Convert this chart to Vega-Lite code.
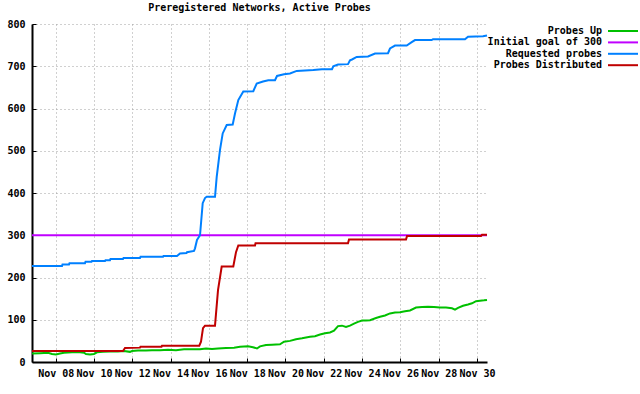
{
"$schema": "https://vega.github.io/schema/vega-lite/v6.json",
"width": 455, "height": 338,
"autosize": "none",
"padding": {"left": 32, "top": 24, "right": 153, "bottom": 32},
"background": "white",
"title": {"text": "Preregistered Networks, Active Probes", "font": "DejaVu Sans Mono", "fontSize": 10, "fontWeight": "bold", "anchor": "middle", "offset": 6, "color": "black"},
"config": {
  "view": {"stroke": null},
  "axis": {"domainColor": "black", "domainWidth": 2, "tickColor": "black", "tickWidth": 1, "gridColor": "#a0a0a0", "gridDash": [1, 3], "gridWidth": 1, "labelFont": "DejaVu Sans Mono", "labelFontSize": 10, "labelFontWeight": "bold", "labelColor": "black", "title": null}
},
"data": {"values": [
{"s":"Probes Up","t":"2010-11-06T18:18","v":20},
{"s":"Probes Up","t":"2010-11-07T04:19","v":21},
{"s":"Probes Up","t":"2010-11-07T14:21","v":22},
{"s":"Probes Up","t":"2010-11-07T19:22","v":19},
{"s":"Probes Up","t":"2010-11-08T00:23","v":18},
{"s":"Probes Up","t":"2010-11-08T05:23","v":20},
{"s":"Probes Up","t":"2010-11-08T10:24","v":22},
{"s":"Probes Up","t":"2010-11-08T20:26","v":23},
{"s":"Probes Up","t":"2010-11-09T06:27","v":23},
{"s":"Probes Up","t":"2010-11-09T11:28","v":22},
{"s":"Probes Up","t":"2010-11-09T13:58","v":19},
{"s":"Probes Up","t":"2010-11-09T18:59","v":18},
{"s":"Probes Up","t":"2010-11-10T00:00","v":19},
{"s":"Probes Up","t":"2010-11-10T03:46","v":23},
{"s":"Probes Up","t":"2010-11-10T11:17","v":24},
{"s":"Probes Up","t":"2010-11-10T20:03","v":25},
{"s":"Probes Up","t":"2010-11-11T06:05","v":25},
{"s":"Probes Up","t":"2010-11-11T13:36","v":26},
{"s":"Probes Up","t":"2010-11-11T21:07","v":24},
{"s":"Probes Up","t":"2010-11-11T23:38","v":26},
{"s":"Probes Up","t":"2010-11-12T07:09","v":27},
{"s":"Probes Up","t":"2010-11-12T17:10","v":27},
{"s":"Probes Up","t":"2010-11-13T00:41","v":28},
{"s":"Probes Up","t":"2010-11-13T10:43","v":28},
{"s":"Probes Up","t":"2010-11-13T20:45","v":29},
{"s":"Probes Up","t":"2010-11-14T06:46","v":28},
{"s":"Probes Up","t":"2010-11-14T16:48","v":30},
{"s":"Probes Up","t":"2010-11-15T02:49","v":30},
{"s":"Probes Up","t":"2010-11-15T12:51","v":30},
{"s":"Probes Up","t":"2010-11-15T20:22","v":32},
{"s":"Probes Up","t":"2010-11-16T03:53","v":31},
{"s":"Probes Up","t":"2010-11-16T11:25","v":32},
{"s":"Probes Up","t":"2010-11-16T21:26","v":33},
{"s":"Probes Up","t":"2010-11-17T07:28","v":34},
{"s":"Probes Up","t":"2010-11-17T14:59","v":36},
{"s":"Probes Up","t":"2010-11-18T01:01","v":37},
{"s":"Probes Up","t":"2010-11-18T07:17","v":35},
{"s":"Probes Up","t":"2010-11-18T12:17","v":32},
{"s":"Probes Up","t":"2010-11-18T16:03","v":37},
{"s":"Probes Up","t":"2010-11-18T23:34","v":40},
{"s":"Probes Up","t":"2010-11-19T07:05","v":41},
{"s":"Probes Up","t":"2010-11-19T17:07","v":42},
{"s":"Probes Up","t":"2010-11-19T22:08","v":48},
{"s":"Probes Up","t":"2010-11-20T05:39","v":50},
{"s":"Probes Up","t":"2010-11-20T13:10","v":54},
{"s":"Probes Up","t":"2010-11-20T20:41","v":56},
{"s":"Probes Up","t":"2010-11-21T06:43","v":60},
{"s":"Probes Up","t":"2010-11-21T12:59","v":61},
{"s":"Probes Up","t":"2010-11-21T19:15","v":65},
{"s":"Probes Up","t":"2010-11-22T01:31","v":68},
{"s":"Probes Up","t":"2010-11-22T07:47","v":70},
{"s":"Probes Up","t":"2010-11-22T12:47","v":74},
{"s":"Probes Up","t":"2010-11-22T17:49","v":85},
{"s":"Probes Up","t":"2010-11-22T22:49","v":86},
{"s":"Probes Up","t":"2010-11-23T03:50","v":83},
{"s":"Probes Up","t":"2010-11-23T08:51","v":86},
{"s":"Probes Up","t":"2010-11-23T13:52","v":91},
{"s":"Probes Up","t":"2010-11-23T18:52","v":95},
{"s":"Probes Up","t":"2010-11-23T23:53","v":98},
{"s":"Probes Up","t":"2010-11-24T04:54","v":98},
{"s":"Probes Up","t":"2010-11-24T09:55","v":99},
{"s":"Probes Up","t":"2010-11-24T17:26","v":104},
{"s":"Probes Up","t":"2010-11-24T22:27","v":107},
{"s":"Probes Up","t":"2010-11-25T04:43","v":110},
{"s":"Probes Up","t":"2010-11-25T10:59","v":115},
{"s":"Probes Up","t":"2010-11-25T17:14","v":117},
{"s":"Probes Up","t":"2010-11-25T23:31","v":118},
{"s":"Probes Up","t":"2010-11-26T05:47","v":120},
{"s":"Probes Up","t":"2010-11-26T12:02","v":122},
{"s":"Probes Up","t":"2010-11-26T19:34","v":129},
{"s":"Probes Up","t":"2010-11-27T03:05","v":130},
{"s":"Probes Up","t":"2010-11-27T10:36","v":131},
{"s":"Probes Up","t":"2010-11-27T18:07","v":130},
{"s":"Probes Up","t":"2010-11-28T01:38","v":129},
{"s":"Probes Up","t":"2010-11-28T09:10","v":129},
{"s":"Probes Up","t":"2010-11-28T16:41","v":127},
{"s":"Probes Up","t":"2010-11-28T20:26","v":124},
{"s":"Probes Up","t":"2010-11-29T00:12","v":128},
{"s":"Probes Up","t":"2010-11-29T06:28","v":133},
{"s":"Probes Up","t":"2010-11-29T12:44","v":136},
{"s":"Probes Up","t":"2010-11-29T17:44","v":139},
{"s":"Probes Up","t":"2010-11-29T22:45","v":144},
{"s":"Probes Up","t":"2010-11-30T03:46","v":145},
{"s":"Probes Up","t":"2010-11-30T08:47","v":146},
{"s":"Probes Up","t":"2010-11-30T12:32","v":147},
{"s":"Initial goal of 300","t":"2010-11-06T18:18","v":300},
{"s":"Initial goal of 300","t":"2010-11-30T12:32","v":300},
{"s":"Requested probes","t":"2010-11-06T18:18","v":227},
{"s":"Requested probes","t":"2010-11-08T07:54","v":227},
{"s":"Requested probes","t":"2010-11-08T08:31","v":231},
{"s":"Requested probes","t":"2010-11-08T16:40","v":231},
{"s":"Requested probes","t":"2010-11-08T17:18","v":234},
{"s":"Requested probes","t":"2010-11-09T12:43","v":234},
{"s":"Requested probes","t":"2010-11-09T13:21","v":237},
{"s":"Requested probes","t":"2010-11-09T20:52","v":237},
{"s":"Requested probes","t":"2010-11-09T21:30","v":239},
{"s":"Requested probes","t":"2010-11-10T13:47","v":239},
{"s":"Requested probes","t":"2010-11-10T14:25","v":241},
{"s":"Requested probes","t":"2010-11-10T20:03","v":241},
{"s":"Requested probes","t":"2010-11-10T20:41","v":244},
{"s":"Requested probes","t":"2010-11-11T12:21","v":244},
{"s":"Requested probes","t":"2010-11-11T12:58","v":246},
{"s":"Requested probes","t":"2010-11-12T09:39","v":246},
{"s":"Requested probes","t":"2010-11-12T10:17","v":249},
{"s":"Requested probes","t":"2010-11-13T14:29","v":249},
{"s":"Requested probes","t":"2010-11-13T15:07","v":251},
{"s":"Requested probes","t":"2010-11-14T08:01","v":251},
{"s":"Requested probes","t":"2010-11-14T11:47","v":257},
{"s":"Requested probes","t":"2010-11-14T19:56","v":258},
{"s":"Requested probes","t":"2010-11-14T20:34","v":260},
{"s":"Requested probes","t":"2010-11-15T05:20","v":263},
{"s":"Requested probes","t":"2010-11-15T06:35","v":269},
{"s":"Requested probes","t":"2010-11-15T09:05","v":289},
{"s":"Requested probes","t":"2010-11-15T12:51","v":300},
{"s":"Requested probes","t":"2010-11-15T16:14","v":376},
{"s":"Requested probes","t":"2010-11-15T19:07","v":388},
{"s":"Requested probes","t":"2010-11-15T21:15","v":391},
{"s":"Requested probes","t":"2010-11-16T07:39","v":391},
{"s":"Requested probes","t":"2010-11-16T09:47","v":438},
{"s":"Requested probes","t":"2010-11-16T13:55","v":502},
{"s":"Requested probes","t":"2010-11-16T17:18","v":541},
{"s":"Requested probes","t":"2010-11-16T22:19","v":561},
{"s":"Requested probes","t":"2010-11-17T05:50","v":562},
{"s":"Requested probes","t":"2010-11-17T08:43","v":588},
{"s":"Requested probes","t":"2010-11-17T12:51","v":620},
{"s":"Requested probes","t":"2010-11-17T19:07","v":640},
{"s":"Requested probes","t":"2010-11-18T07:39","v":641},
{"s":"Requested probes","t":"2010-11-18T11:55","v":659},
{"s":"Requested probes","t":"2010-11-18T19:49","v":664},
{"s":"Requested probes","t":"2010-11-19T02:27","v":667},
{"s":"Requested probes","t":"2010-11-19T10:51","v":667},
{"s":"Requested probes","t":"2010-11-19T13:21","v":677},
{"s":"Requested probes","t":"2010-11-19T22:08","v":681},
{"s":"Requested probes","t":"2010-11-20T05:39","v":683},
{"s":"Requested probes","t":"2010-11-20T14:03","v":689},
{"s":"Requested probes","t":"2010-11-21T10:51","v":691},
{"s":"Requested probes","t":"2010-11-21T21:45","v":693},
{"s":"Requested probes","t":"2010-11-22T10:17","v":693},
{"s":"Requested probes","t":"2010-11-22T11:55","v":700},
{"s":"Requested probes","t":"2010-11-22T17:49","v":704},
{"s":"Requested probes","t":"2010-11-23T06:20","v":705},
{"s":"Requested probes","t":"2010-11-23T08:51","v":714},
{"s":"Requested probes","t":"2010-11-23T11:21","v":716},
{"s":"Requested probes","t":"2010-11-23T17:14","v":722},
{"s":"Requested probes","t":"2010-11-24T07:25","v":723},
{"s":"Requested probes","t":"2010-11-24T16:11","v":730},
{"s":"Requested probes","t":"2010-11-25T08:28","v":731},
{"s":"Requested probes","t":"2010-11-25T10:59","v":742},
{"s":"Requested probes","t":"2010-11-25T17:14","v":749},
{"s":"Requested probes","t":"2010-11-26T07:55","v":749},
{"s":"Requested probes","t":"2010-11-26T14:10","v":757},
{"s":"Requested probes","t":"2010-11-26T18:19","v":762},
{"s":"Requested probes","t":"2010-11-27T15:14","v":762},
{"s":"Requested probes","t":"2010-11-27T16:52","v":764},
{"s":"Requested probes","t":"2010-11-29T08:58","v":764},
{"s":"Requested probes","t":"2010-11-29T12:44","v":770},
{"s":"Requested probes","t":"2010-11-30T07:32","v":771},
{"s":"Requested probes","t":"2010-11-30T12:32","v":773},
{"s":"Probes Distributed","t":"2010-11-06T18:18","v":26},
{"s":"Probes Distributed","t":"2010-11-11T12:21","v":26},
{"s":"Probes Distributed","t":"2010-11-11T14:51","v":33},
{"s":"Probes Distributed","t":"2010-11-12T09:39","v":34},
{"s":"Probes Distributed","t":"2010-11-12T10:17","v":36},
{"s":"Probes Distributed","t":"2010-11-13T12:36","v":36},
{"s":"Probes Distributed","t":"2010-11-13T13:14","v":38.5},
{"s":"Probes Distributed","t":"2010-11-15T11:58","v":38.5},
{"s":"Probes Distributed","t":"2010-11-15T14:06","v":48},
{"s":"Probes Distributed","t":"2010-11-15T16:37","v":80},
{"s":"Probes Distributed","t":"2010-11-15T19:07","v":86},
{"s":"Probes Distributed","t":"2010-11-16T07:39","v":86},
{"s":"Probes Distributed","t":"2010-11-16T11:25","v":170},
{"s":"Probes Distributed","t":"2010-11-16T16:02","v":226},
{"s":"Probes Distributed","t":"2010-11-17T06:35","v":226},
{"s":"Probes Distributed","t":"2010-11-17T09:58","v":260},
{"s":"Probes Distributed","t":"2010-11-17T12:51","v":276},
{"s":"Probes Distributed","t":"2010-11-18T09:47","v":276},
{"s":"Probes Distributed","t":"2010-11-18T10:25","v":281},
{"s":"Probes Distributed","t":"2010-11-23T06:20","v":281},
{"s":"Probes Distributed","t":"2010-11-23T07:35","v":290},
{"s":"Probes Distributed","t":"2010-11-26T07:02","v":290},
{"s":"Probes Distributed","t":"2010-11-26T08:17","v":298},
{"s":"Probes Distributed","t":"2010-11-30T05:01","v":298},
{"s":"Probes Distributed","t":"2010-11-30T06:17","v":301},
{"s":"Probes Distributed","t":"2010-11-30T12:32","v":301}
]},
"mark": {"type": "line", "strokeWidth": 2},
"encoding": {
  "x": {"field": "t", "type": "temporal",
    "scale": {"domain": [{"year": 2010, "month": 11, "date": 6, "hours": 18, "minutes": 18}, {"year": 2010, "month": 11, "date": 30, "hours": 12, "minutes": 32}], "nice": false},
    "axis": {"format": "%b %d", "labelOverlap": false, "labelFlush": false, "grid": true, "tickSize": -4, "labelPadding": 10,
      "values": [
        {"year": 2010, "month": 11, "date": 8}, {"year": 2010, "month": 11, "date": 10}, {"year": 2010, "month": 11, "date": 12},
        {"year": 2010, "month": 11, "date": 14}, {"year": 2010, "month": 11, "date": 16}, {"year": 2010, "month": 11, "date": 18},
        {"year": 2010, "month": 11, "date": 20}, {"year": 2010, "month": 11, "date": 22}, {"year": 2010, "month": 11, "date": 24},
        {"year": 2010, "month": 11, "date": 26}, {"year": 2010, "month": 11, "date": 28}, {"year": 2010, "month": 11, "date": 30}]}},
  "y": {"field": "v", "type": "quantitative",
    "scale": {"domain": [0, 800], "nice": false},
    "axis": {"values": [0, 100, 200, 300, 400, 500, 600, 700, 800], "grid": true, "tickSize": -4, "labelPadding": 11}},
  "color": {"field": "s", "type": "nominal",
    "scale": {"domain": ["Probes Up", "Initial goal of 300", "Requested probes", "Probes Distributed"], "range": ["#00c000", "#c000ff", "#0080ff", "#c00000"]},
    "legend": {"orient": "none", "legendX": 586, "legendY": 2, "title": null, "padding": 0,
      "symbolType": "M-3.75,0L3.75,0", "symbolSize": 64, "symbolStrokeWidth": 2,
      "labelAlign": "right", "labelOffset": -26, "rowPadding": 1.4,
      "labelFont": "DejaVu Sans Mono", "labelFontSize": 10, "labelFontWeight": "bold", "labelColor": "black", "labelLimit": 300}}
}
}
